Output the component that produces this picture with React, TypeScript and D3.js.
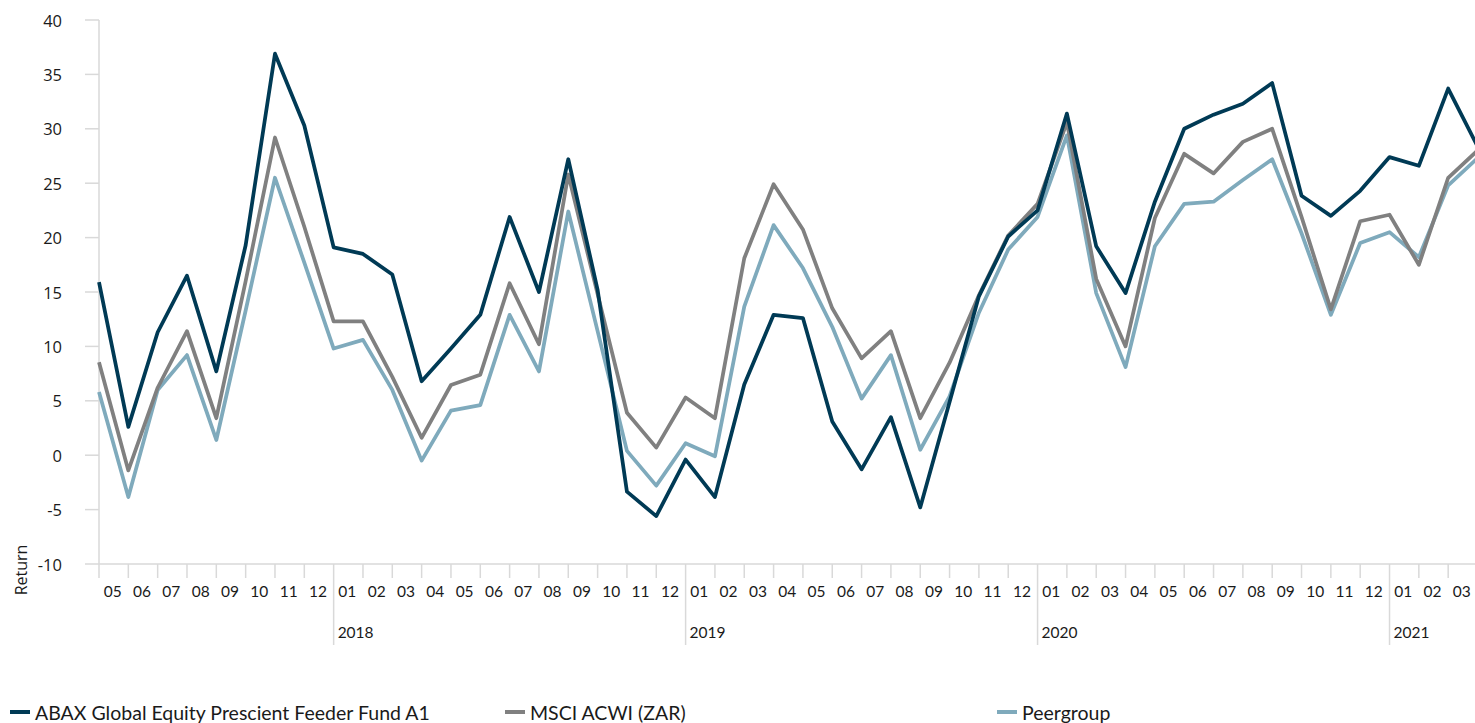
import * as d3 from 'd3'
import * as React from 'react'

//------------------------------data------------------------------
const years = ['2017', '2018', '2019', '2020', '2021']
const months = [
  '05', '06', '07', '08', '09', '10', '11', '12',
  '01', '02', '03', '04', '05', '06', '07', '08', '09', '10', '11', '12',
  '01', '02', '03', '04', '05', '06', '07', '08', '09', '10', '11', '12',
  '01', '02', '03', '04', '05', '06', '07', '08', '09', '10', '11', '12',
  '01', '02', '03', '04'
]
const fund = [
  15.9, 2.6, 11.3, 16.5, 7.7, 19.3, 36.9, 30.3,
  19.1, 18.5, 16.6, 6.8, 9.8, 12.9, 21.9, 15.0, 27.2, 15.2, -3.35, -5.6,
  -0.4, -3.85, 6.5, 12.9, 12.6, 3.1, -1.3, 3.5, -4.8, 4.9, 14.6, 20.1,
  22.5, 31.4, 19.2, 14.9, 23.3, 30.0, 31.3, 32.3, 34.2, 23.85, 22.0, 24.3,
  27.4, 26.6, 33.7, 28.4
]
const msci = [
  8.55, -1.4, 6.2, 11.4, 3.4, 16.0, 29.2, 21.0,
  12.3, 12.3, 7.2, 1.6, 6.45, 7.4, 15.8, 10.2, 25.8, 14.8, 3.9, 0.7,
  5.3, 3.4, 18.1, 24.9, 20.75, 13.5, 8.9, 11.4, 3.4, 8.5, 14.7, 20.2,
  23.1, 30.6, 16.2, 10.0, 21.8, 27.7, 25.9, 28.8, 30.0, 21.9, 13.4, 21.5,
  22.1, 17.5, 25.5, 28.0
]
const peer = [
  5.8, -3.85, 6.0, 9.2, 1.4, 13.3, 25.5, 17.7,
  9.8, 10.6, 6.0, -0.5, 4.1, 4.6, 12.9, 7.7, 22.4, 11.4, 0.4, -2.8,
  1.1, -0.1, 13.65, 21.15, 17.2, 11.8, 5.2, 9.2, 0.5, 5.4, 13.1, 18.9,
  21.9, 29.4, 14.9, 8.1, 19.2, 23.1, 23.3, 25.3, 27.2, 20.4, 12.9, 19.5,
  20.5, 18.2, 24.8, 27.3
]
const yTicks = [40, 35, 30, 25, 20, 15, 10, 5, 0, -5, -10]
const seriesNames = [
  'ABAX Global Equity Prescient Feeder Fund A1',
  'MSCI ACWI (ZAR)',
  'Peergroup'
]

//------------------------------layout------------------------------
const WIDTH = 1475
const HEIGHT = 723
const X0 = 99
const STEP = 29.33
const Y_TOP = 20
const Y_BOTTOM = 564
const AXIS = '#d9d9d9'
const COLORS = ['#003a55', '#808080', '#7faabc']
const TEXT = '#1a1a1a'

const x = d3.scaleLinear().domain([0, 1]).range([X0, X0 + STEP])
const y = d3.scaleLinear().domain([-10, 40]).range([Y_BOTTOM, Y_TOP])

const line = d3
  .line<number>()
  .x((_, i) => x(i))
  .y(d => y(d))

//------------------------------Component------------------------------
export default function App() {
  const series = [fund, msci, peer]
  // year start positions: index of every "01" month
  const yearStarts = months
    .map((m, i) => (m === '01' ? i : -1))
    .filter(i => i >= 0)

  return (
    <svg
      width={WIDTH}
      height={HEIGHT}
      style={{ position: 'absolute', left: 0, top: 0, background: '#fff' }}
    >
      {/* y axis */}
      <line x1={X0} x2={X0} y1={Y_TOP} y2={Y_BOTTOM} stroke={AXIS} strokeWidth={1.5} />
      {yTicks.map(t => (
        <g key={t}>
          <line x1={X0 - 14} x2={X0} y1={y(t)} y2={y(t)} stroke={AXIS} strokeWidth={1.5} />
          <text
            x={62}
            y={y(t)}
            textAnchor="end"
            dominantBaseline="central"
            fontFamily="'Open Sans', sans-serif"
            fontSize={16.5}
            fill={TEXT}
          >
            {t}
          </text>
        </g>
      ))}
      <text
        transform={`translate(21,570) rotate(-90)`}
        textAnchor="middle"
        dominantBaseline="central"
        fontFamily="'Open Sans', sans-serif"
        fontSize={16}
        fill={TEXT}
      >
        Return
      </text>

      {/* x axis */}
      <line x1={X0} x2={WIDTH} y1={Y_BOTTOM} y2={Y_BOTTOM} stroke={AXIS} strokeWidth={1.5} />
      {months.map((m, i) => (
        <g key={i}>
          <line
            x1={x(i)}
            x2={x(i)}
            y1={Y_BOTTOM}
            y2={m === '01' ? 645 : 578}
            stroke={AXIS}
            strokeWidth={1.5}
          />
          {x(i) + STEP / 2 < WIDTH && (
            <text
              x={x(i) + STEP / 2 - 1}
              y={591}
              textAnchor="middle"
              dominantBaseline="central"
              fontFamily="Lato, sans-serif"
              fontSize={15.5}
              fill={TEXT}
            >
              {m}
            </text>
          )}
        </g>
      ))}
      {yearStarts.map((i, k) => (
        <text
          key={i}
          x={x(i) + 4}
          y={632}
          dominantBaseline="central"
          fontFamily="Lato, sans-serif"
          fontSize={15.5}
          fill={TEXT}
        >
          {years[k + 1]}
        </text>
      ))}

      {/* lines: peer first, fund on top */}
      {[2, 1, 0].map(s => (
        <path
          key={s}
          d={line(series[s]) || ''}
          fill="none"
          stroke={COLORS[s]}
          strokeWidth={3.75}
          strokeLinejoin="round"
        />
      ))}

      {/* legend */}
      {seriesNames.map((name, s) => {
        const lx = [10, 505, 997][s]
        return (
          <g key={name}>
            <line x1={lx} x2={lx + 20} y1={712} y2={712} stroke={COLORS[s]} strokeWidth={4} />
            <text
              x={lx + 25}
              y={712}
              dominantBaseline="central"
              fontFamily="Lato, sans-serif"
              fontSize={19.5}
              fill={TEXT}
            >
              {name}
            </text>
          </g>
        )
      })}
    </svg>
  )
}
